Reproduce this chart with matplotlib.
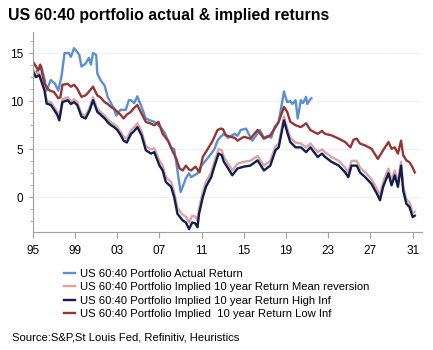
import matplotlib
matplotlib.use("Agg")
import matplotlib.pyplot as plt
from matplotlib.ticker import MultipleLocator

plt.rcParams['font.family'] = ['Liberation Sans', 'DejaVu Sans']

# US 60:40 actual return
actual_years = [1995.0, 1995.3, 1995.8, 1996.1, 1996.3, 1996.7, 1997.1, 1997.4, 1997.7, 1998.0,
                1998.4, 1998.6, 1998.9, 1999.2, 1999.4, 1999.6, 2000.0, 2000.3, 2000.5, 2000.7,
                2001.0, 2001.1, 2001.4, 2001.8, 2002.1, 2002.4, 2002.7, 2002.9, 2003.3, 2003.8,
                2004.1, 2004.3, 2004.6, 2004.9, 2005.3, 2005.7, 2006.1, 2006.5, 2006.8, 2007.1,
                2007.5, 2007.8, 2008.1, 2008.4, 2008.7, 2009.0, 2009.3, 2009.5, 2009.8, 2010.0,
                2010.3, 2010.6, 2010.9, 2011.4, 2011.9, 2012.2, 2012.5, 2012.8, 2013.1, 2013.5,
                2014.1, 2014.4, 2014.7, 2015.2, 2015.5, 2015.8, 2016.2, 2016.5, 2016.9, 2017.3,
                2017.6, 2017.9, 2018.3, 2018.8, 2019.1, 2019.4, 2019.6, 2019.9, 2020.1, 2020.4,
                2020.6, 2020.9, 2021.0, 2021.3, 2021.4]
actual = [12.4, 13.0, 13.6, 12.3, 11.1, 12.2, 11.8, 11.1, 12.5, 15.0,
          15.0, 14.6, 15.5, 15.1, 14.8, 13.6, 13.9, 14.5, 13.8, 15.0,
          14.8, 12.9, 12.2, 11.6, 10.4, 9.8, 9.2, 8.5, 9.1, 9.1,
          10.1, 10.1, 9.8, 10.5, 9.4, 8.2, 8.0, 7.85, 7.6, 7.3,
          6.7, 5.9, 5.2, 5.0, 2.8, 0.55, 1.4, 2.0, 2.5, 2.1,
          2.3, 2.5, 3.2, 3.85, 4.55, 5.0, 5.9, 6.3, 6.6, 6.2,
          6.6, 6.4, 7.0, 7.15, 6.5, 5.9, 6.5, 7.0, 6.2, 6.4,
          6.2, 7.3, 7.85, 11.0, 9.9, 10.0, 9.7, 10.1, 8.2, 10.1,
          9.8, 10.45, 9.7, 10.2, 10.3]

# implied 10 year returns, mean reversion and high inflation
implied_years = [1995.0, 1995.3, 1995.6, 1996.1, 1996.3, 1996.7, 1997.0, 1997.3, 1997.5, 1997.8,
                 1998.3, 1998.6, 1998.9, 1999.2, 1999.6, 2000.0, 2000.4, 2000.7, 2001.1, 2001.5,
                 2001.8, 2002.1, 2002.4, 2002.7, 2003.0, 2003.3, 2003.6, 2003.9, 2004.3, 2004.6,
                 2004.9, 2005.3, 2005.7, 2006.2, 2006.5, 2007.0, 2007.3, 2007.6, 2008.1, 2008.4,
                 2008.7, 2009.2, 2009.5, 2009.8, 2010.1, 2010.4, 2010.6, 2010.75, 2011.1, 2011.4,
                 2011.9, 2012.2, 2012.6, 2012.9, 2013.1, 2013.4, 2013.9, 2014.4, 2015.0, 2015.6,
                 2016.3, 2016.9, 2017.5, 2018.0, 2018.3, 2018.8, 2019.1, 2019.4, 2019.9, 2020.4,
                 2020.9, 2021.3, 2022.0, 2022.4, 2022.7, 2023.3, 2024.0, 2024.6, 2024.9, 2025.2,
                 2025.7, 2026.0, 2026.5, 2027.1, 2027.6, 2027.9, 2028.2, 2028.7, 2029.0, 2029.3,
                 2029.6, 2029.9, 2030.1, 2030.4, 2030.7, 2031.0, 2031.2]
mean_rev = [13.3, 12.8, 12.9, 11.4, 10.0, 9.9, 9.4, 8.9, 8.3, 10.2,
            10.4, 10.0, 10.2, 9.9, 8.7, 8.5, 9.4, 10.4, 9.2, 8.8,
            8.5, 8.1, 7.8, 7.6, 7.3, 6.8, 6.3, 6.1, 7.0, 7.3,
            7.7, 6.9, 5.3, 5.0, 5.1, 3.8, 3.3, 2.1, 1.6, 0.5,
            -1.1, -1.8, -2.0, -2.6, -1.9, -2.0, -2.4, -1.1, 0.5, 1.6,
            2.6, 3.7, 5.0, 4.9, 4.2, 3.7, 2.8, 3.5, 3.7, 3.8,
            4.3, 3.3, 3.8, 5.3, 5.6, 8.4, 7.2, 6.2, 5.7, 5.6,
            5.2, 5.6, 4.7, 5.0, 4.7, 4.2, 3.8, 3.1, 2.6, 3.8,
            3.8, 3.1, 2.6, 1.9, 0.9, 0.2, 1.6, 3.0, 1.8, 2.8,
            1.6, 3.7, 1.2, -0.2, -0.5, -1.6, -1.5]
high_inf = [13.05, 12.5, 12.7, 11.1, 9.75, 9.6, 9.1, 8.6, 8.0, 9.9,
            10.1, 9.7, 9.9, 9.6, 8.4, 8.2, 9.1, 10.1, 8.9, 8.5,
            8.2, 7.8, 7.5, 7.3, 7.0, 6.5, 5.9, 5.7, 6.6, 6.9,
            7.3, 6.45, 4.9, 4.55, 4.7, 3.3, 2.8, 1.6, 1.1, 0.0,
            -1.7, -2.4, -2.6, -3.3, -2.6, -2.7, -3.1, -1.7, 0.0, 1.1,
            2.1, 3.2, 4.55, 4.4, 3.7, 3.2, 2.3, 3.0, 3.2, 3.3,
            3.85, 2.8, 3.3, 4.9, 5.2, 8.0, 6.8, 5.75, 5.2, 5.2,
            4.7, 5.2, 4.2, 4.55, 4.2, 3.7, 3.3, 2.6, 2.1, 3.3,
            3.3, 2.6, 2.1, 1.4, 0.4, -0.3, 1.1, 2.5, 1.25, 2.3,
            1.1, 3.3, 0.7, -0.65, -1.0, -2.05, -1.9]

# implied 10 year return, low inflation
low_years = [1995.0, 1995.3, 1995.5, 1995.7, 1996.1, 1996.4, 1996.6, 1997.0, 1997.4, 1997.6,
             1997.8, 1998.3, 1998.6, 1998.9, 1999.2, 1999.6, 2000.0, 2000.4, 2000.7, 2001.1,
             2001.4, 2001.8, 2002.1, 2002.4, 2002.7, 2003.0, 2003.3, 2003.6, 2003.9, 2004.3,
             2004.6, 2004.9, 2005.3, 2005.7, 2006.1, 2006.5, 2006.9, 2007.3, 2007.8, 2008.2,
             2008.6, 2008.9, 2009.2, 2009.5, 2009.8, 2010.0, 2010.4, 2010.8, 2011.1, 2011.5,
             2012.0, 2012.5, 2012.8, 2013.0, 2013.3, 2013.7, 2014.1, 2014.4, 2015.0, 2015.6,
             2016.3, 2016.9, 2017.5, 2018.0, 2018.3, 2018.8, 2019.1, 2019.4, 2019.9, 2020.4,
             2020.9, 2021.3, 2022.0, 2022.4, 2022.7, 2023.3, 2024.0, 2024.6, 2025.1, 2025.4,
             2025.7, 2026.0, 2026.5, 2027.1, 2027.7, 2028.2, 2028.7, 2029.0, 2029.3, 2029.6,
             2029.9, 2030.1, 2030.4, 2030.7, 2031.0, 2031.2]
low_inf = [14.1, 13.6, 13.2, 13.8, 11.8, 11.3, 11.1, 10.95, 10.3, 10.4,
           11.7, 11.8, 11.5, 11.7, 11.3, 10.45, 10.6, 11.1, 11.5, 10.6,
           10.4, 9.9, 9.7, 9.4, 9.2, 8.9, 8.6, 8.2, 8.6, 8.9,
           9.3, 9.6, 8.7, 7.85, 7.7, 7.5, 7.85, 6.6, 5.9, 4.9,
           4.0, 3.0, 2.8, 3.3, 2.9, 2.8, 3.2, 2.6, 4.2, 4.9,
           5.8, 7.0, 7.15, 7.1, 6.45, 6.3, 6.2, 5.9, 6.3, 6.1,
           7.0, 6.1, 6.45, 7.3, 7.85, 9.4, 8.9, 7.85, 7.5, 7.3,
           7.7, 7.0, 6.6, 6.9, 6.6, 6.45, 6.1, 5.75, 5.2, 6.0,
           6.1, 5.6, 5.4, 5.05, 4.0, 4.9, 5.75, 5.05, 5.2, 4.55,
           5.9, 4.4, 3.85, 3.65, 3.1, 2.6]

tick_years = [1995, 1999, 2003, 2007, 2011, 2015, 2019, 2023, 2027, 2031]
tick_labels = ['95', '99', '03', '07', '11', '15', '19', '23', '27', '31']

fig = plt.figure(figsize=(4.33, 3.5), dpi=100)
ax = fig.add_axes([0.076, 0.337, 0.899, 0.572])

lw = 1.7
ax.plot(actual_years, actual, color='#5b8fd3', lw=lw,
        label='US 60:40 Portfolio Actual Return')
ax.plot(implied_years, mean_rev, color='#dba3a3', lw=lw,
        label='US 60:40 Portfolio Implied 10 year Return Mean reversion')
ax.plot(implied_years, high_inf, color='#0e1f4f', lw=lw,
        label='US 60:40 Portfolio Implied 10 year Return High Inf')
ax.plot(low_years, low_inf, color='#963634', lw=lw,
        label='US 60:40 Portfolio Implied  10 year Return Low Inf')

ax.set_xlim(1995, 2031.9)
ax.set_ylim(-3.6, 17.2)
ax.set_xticks(tick_years)
ax.set_xticklabels(tick_labels)
ax.set_yticks([0, 5, 10, 15])
ax.yaxis.set_minor_locator(MultipleLocator(1.25))
ax.grid(axis='y', color='#e4e4e4', lw=0.8, ls=(0, (1, 1)))
ax.set_axisbelow(True)

for s in ['top', 'right']:
    ax.spines[s].set_visible(False)
for s in ['left', 'bottom']:
    ax.spines[s].set_color('#a0a0a0')
ax.tick_params(axis='both', which='both', color='#a0a0a0', labelsize=8.5,
               labelcolor='black')
ax.tick_params(axis='x', length=4, pad=5)
ax.tick_params(axis='y', which='major', length=3, pad=4)
ax.tick_params(axis='y', which='minor', length=2)

fig.text(0.018, 0.955, 'US 60:40 portfolio actual & implied returns',
         fontsize=11.4, fontweight='bold', va='center', ha='left')

fig.legend(loc='upper left', bbox_to_anchor=(0.148, 0.232), frameon=False,
           fontsize=8.1, handlelength=1.0, handletextpad=0.45, labelspacing=0.3,
           borderaxespad=0, borderpad=0)

fig.text(0.028, 0.035, 'Source:S&P,St Louis Fed, Refinitiv, Heuristics',
         fontsize=8.1, va='center', ha='left')

fig.savefig('out.png', dpi=100)
